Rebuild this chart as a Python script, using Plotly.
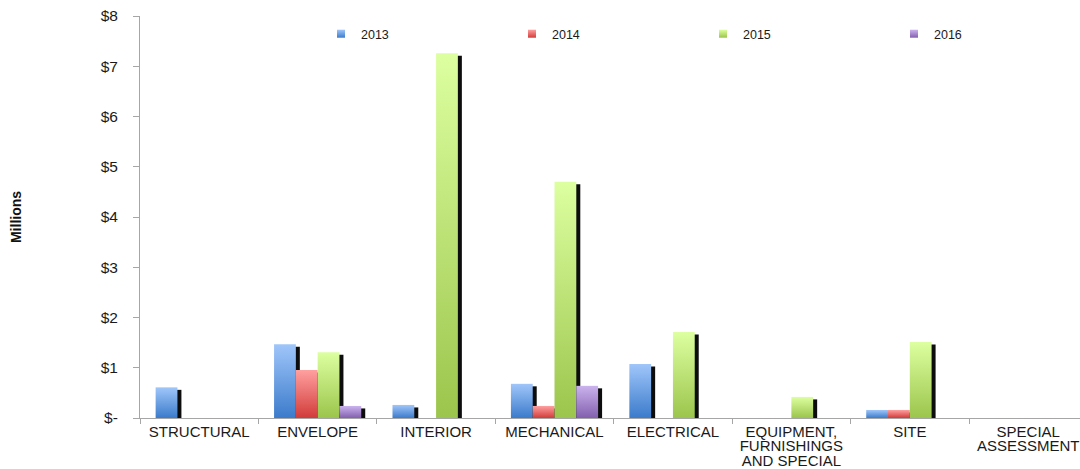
import plotly.graph_objects as go

# Capital spending by building system, in millions of dollars
categories = [
    "STRUCTURAL",
    "ENVELOPE",
    "INTERIOR",
    "MECHANICAL",
    "ELECTRICAL",
    "EQUIPMENT,<br>FURNISHINGS<br>AND SPECIAL",
    "SITE",
    "SPECIAL<br>ASSESSMENT",
]
years = ["2013", "2014", "2015", "2016"]
values_2013 = [0.61, 1.47, 0.26, 0.68, 1.075, 0, 0.16, 0]
values_2014 = [0, 0.955, 0, 0.24, 0, 0, 0.16, 0]
values_2015 = [0, 1.31, 7.26, 4.70, 1.71, 0.42, 1.51, 0]
values_2016 = [0, 0.24, 0, 0.64, 0, 0, 0, 0]
y_tick_values = [0, 1, 2, 3, 4, 5, 6, 7, 8]
y_tick_labels = ["$-", "$1", "$2", "$3", "$4", "$5", "$6", "$7", "$8"]

series = [values_2013, values_2014, values_2015, values_2016]
# (light top, dark bottom) for each year's vertical gradient
palette = [
    ("#a0c6fa", "#3b7bcb"),
    ("#ffa0a0", "#d13c3a"),
    ("#ddffa0", "#9bc54c"),
    ("#cbb3ee", "#8360ae"),
]

CAT_PX = 118.43          # pixel width of one category slot
BAR_W = 0.184            # bar width in category units
SHADOW_DX = 4 / CAT_PX   # drop shadow shift to the right
SHADOW_DY = 2.5 / 50.25  # drop shadow shift downward
LABEL_FONT = "Liberation Sans, Arial, sans-serif"

fig = go.Figure()

# Black drop shadows sit underneath every bar
for j, vals in enumerate(series):
    offset = -2 * BAR_W + j * BAR_W + SHADOW_DX
    fig.add_trace(go.Bar(
        x=list(range(len(categories))),
        y=[v - SHADOW_DY if v > 0 else None for v in vals],
        width=BAR_W,
        offset=offset,
        marker=dict(color="#0d0d0d", line=dict(width=0)),
        showlegend=False,
        hoverinfo="skip",
    ))

# Gradient-filled bars, one filled region per bar so each gets its own ramp
for j, (year, vals) in enumerate(zip(years, series)):
    light, dark = palette[j]
    for i, v in enumerate(vals):
        if v <= 0:
            continue
        x0 = i - 2 * BAR_W + j * BAR_W
        fig.add_trace(go.Scatter(
            x=[x0, x0 + BAR_W],
            y=[v, v],
            mode="none",
            fill="tozeroy",
            fillgradient=dict(type="vertical", colorscale=[[0, dark], [1, light]],
                              start=0, stop=v),
            name=year,
            legendgroup=year,
            showlegend=False,
            hoveron="fills",
            hoverinfo="name",
        ))
    # legend swatch for the year
    fig.add_trace(go.Scatter(
        x=[None], y=[None],
        mode="markers",
        marker=dict(symbol="square", size=8, color=light,
                    gradient=dict(type="vertical", color=dark),
                    line=dict(width=0)),
        name=year,
        legendgroup=year,
        showlegend=True,
    ))

tick_text = ['<span style="font-size:15px">%s</span>' % c.replace(
    "<br>", '</span><br><span style="font-size:15px">') for c in categories]

fig.update_layout(
    width=1080,
    height=469,
    margin=dict(l=140, r=0, t=16, b=51, autoexpand=False),
    paper_bgcolor="white",
    plot_bgcolor="white",
    barmode="overlay",
    font=dict(family=LABEL_FONT, color="#1a1a1a"),
    legend=dict(
        orientation="h",
        x=(321 - 140) / 940, xanchor="left",
        y=0.955, yanchor="middle",
        entrywidth=146,
        font=dict(size=12.5, color="#1a1a1a"),
        bgcolor="rgba(0,0,0,0)",
        traceorder="normal",
    ),
    xaxis=dict(
        range=[-0.5, -0.5 + 940 / CAT_PX],
        tickmode="array",
        tickvals=list(range(len(categories))),
        ticktext=tick_text,
        tickangle=0,
        ticks="",
        tickfont=dict(size=11.3, color="#1a1a1a"),
        ticklabelstandoff=4,
        ticklabeloverflow="allow",
        minor=dict(tick0=-0.5, dtick=1, ticks="outside", ticklen=5,
                   tickcolor="#a6a6a6", tickwidth=1),
        showline=True, linecolor="#a6a6a6", linewidth=1,
        showgrid=False, zeroline=False, fixedrange=True,
        automargin=False,
    ),
    yaxis=dict(
        range=[0, 8],
        tickmode="array",
        tickvals=y_tick_values,
        ticktext=y_tick_labels,
        ticks="outside", ticklen=6, tickcolor="#a6a6a6", tickwidth=1,
        tickfont=dict(size=15.5, color="#1a1a1a"),
        ticklabelstandoff=12,
        showline=True, linecolor="#a6a6a6", linewidth=1,
        showgrid=False, zeroline=False, fixedrange=True,
        title=dict(text="<b>Millions</b>", font=dict(size=14, color="#111"),
                   standoff=75),
        automargin=False,
    ),
)

fig.write_html("out.html")
